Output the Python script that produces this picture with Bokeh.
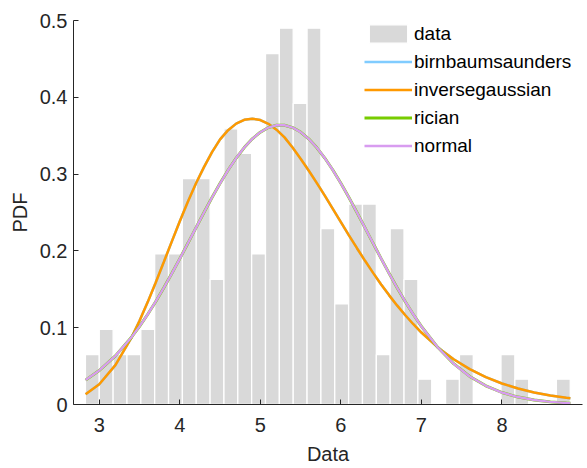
from bokeh.plotting import figure
from bokeh.models import Range1d, FixedTicker, Legend, LegendItem, ColumnDataSource
from bokeh.embed import file_html
from bokeh.resources import INLINE

# ---- data ----
bin_left0 = 2.828
bin_width = 0.172
bar_heights = [0.065, 0.098, 0.065, 0.065, 0.098, 0.196, 0.196, 0.294, 0.294, 0.163,
               0.359, 0.327, 0.196, 0.457, 0.490, 0.392, 0.490, 0.229, 0.131, 0.261,
               0.261, 0.065, 0.229, 0.163, 0.033, 0.0, 0.033, 0.065, 0.0, 0.0,
               0.065, 0.033, 0.0, 0.0, 0.033]

curve_x = [2.83, 3.0, 3.2, 3.4, 3.5, 3.6, 3.7, 3.8, 3.9, 4.0, 4.1, 4.2, 4.3, 4.4, 4.5,
           4.6, 4.7, 4.8, 4.9, 5.0, 5.1, 5.2, 5.3, 5.4, 5.5, 5.6, 5.7, 5.8, 5.9, 6.0,
           6.1, 6.2, 6.3, 6.4, 6.5, 6.6, 6.7, 6.8, 6.9, 7.0, 7.2, 7.4, 7.6, 7.8, 8.0,
           8.2, 8.4, 8.6, 8.8, 8.85]
invgauss_y = [0.0132, 0.0264, 0.0512, 0.0871, 0.1090, 0.1330, 0.1586, 0.1852, 0.2121,
              0.2387, 0.2641, 0.2878, 0.3091, 0.3287, 0.3452, 0.3572, 0.3657, 0.3707,
              0.3722, 0.3704, 0.3655, 0.3578, 0.3478, 0.3346, 0.3199, 0.3047, 0.2886,
              0.2719, 0.2547, 0.2375, 0.2203, 0.2035, 0.1871, 0.1714, 0.1563, 0.1421,
              0.1287, 0.1162, 0.1045, 0.0937, 0.0747, 0.0590, 0.0460, 0.0356, 0.0273,
              0.0208, 0.0157, 0.0118, 0.0088, 0.0082]
birnbaum_y = [0.0132, 0.0264, 0.0512, 0.0871, 0.1090, 0.1330, 0.1586, 0.1852, 0.2121,
              0.2387, 0.2641, 0.2878, 0.3091, 0.3287, 0.3452, 0.3572, 0.3657, 0.3707,
              0.3722, 0.3704, 0.3655, 0.3578, 0.3478, 0.3346, 0.3199, 0.3047, 0.2886,
              0.2719, 0.2547, 0.2375, 0.2203, 0.2035, 0.1871, 0.1714, 0.1563, 0.1421,
              0.1287, 0.1162, 0.1045, 0.0937, 0.0747, 0.0590, 0.0460, 0.0356, 0.0273,
              0.0208, 0.0157, 0.0118, 0.0088, 0.0082]
normal_y = [0.0318, 0.0443, 0.0633, 0.0876, 0.1017, 0.1172, 0.1339, 0.1517, 0.1705,
            0.1899, 0.2099, 0.2300, 0.2500, 0.2695, 0.2880, 0.3053, 0.3209, 0.3346,
            0.3459, 0.3546, 0.3606, 0.3636, 0.3636, 0.3606, 0.3547, 0.3459, 0.3346,
            0.3209, 0.3053, 0.2880, 0.2695, 0.2500, 0.2300, 0.2099, 0.1899, 0.1705,
            0.1517, 0.1339, 0.1172, 0.1017, 0.0748, 0.0531, 0.0365, 0.0243, 0.0156,
            0.0097, 0.0059, 0.0034, 0.0019, 0.0017]
rician_y = [0.0318, 0.0443, 0.0633, 0.0876, 0.1017, 0.1172, 0.1339, 0.1517, 0.1705,
            0.1899, 0.2099, 0.2300, 0.2500, 0.2695, 0.2880, 0.3053, 0.3209, 0.3346,
            0.3459, 0.3546, 0.3606, 0.3636, 0.3636, 0.3606, 0.3547, 0.3459, 0.3346,
            0.3209, 0.3053, 0.2880, 0.2695, 0.2500, 0.2300, 0.2099, 0.1899, 0.1705,
            0.1517, 0.1339, 0.1172, 0.1017, 0.0748, 0.0531, 0.0365, 0.0243, 0.0156,
            0.0097, 0.0059, 0.0034, 0.0019, 0.0017]

x_ticks = [3, 4, 5, 6, 7, 8]
y_ticks = [0, 0.1, 0.2, 0.3, 0.4, 0.5]
y_tick_labels = ["0", "0.1", "0.2", "0.3", "0.4", "0.5"]

# ---- figure ----
FONT = "Liberation Sans"
TXT = "#262626"

p = figure(width=587, height=468, output_backend="svg", toolbar_location=None,
           x_range=Range1d(2.68, 9.0), y_range=Range1d(0, 0.5))
p.min_border_left = 73
p.min_border_right = 5
p.min_border_top = 20
p.min_border_bottom = 64
p.outline_line_color = None
p.xgrid.visible = False
p.ygrid.visible = False
p.background_fill_color = "white"
p.border_fill_color = "white"

lefts = [bin_left0 + i * bin_width for i in range(len(bar_heights))]
rights = [l + bin_width for l in lefts]
src = ColumnDataSource(dict(left=lefts, right=rights, top=bar_heights,
                            bottom=[0] * len(bar_heights)))
bars = p.quad(left="left", right="right", top="top", bottom="bottom", source=src,
              fill_color="#d9d9d9", line_color="white", line_width=1.3)

r_bs = p.line(curve_x, birnbaum_y, line_color="#80ccff", line_width=2.5)
r_ig = p.line(curve_x, invgauss_y, line_color="#ff9900", line_width=2.5)
r_ri = p.line(curve_x, rician_y, line_color="#77cc00", line_width=2.9)
r_no = p.line(curve_x, normal_y, line_color="#d89cf0", line_width=2.4)

for ax in (p.xaxis[0], p.yaxis[0]):
    ax.axis_line_color = TXT
    ax.major_tick_line_color = TXT
    ax.major_tick_in = 5
    ax.major_tick_out = 0
    ax.minor_tick_line_color = None
    ax.major_label_text_font = FONT
    ax.major_label_text_font_size = "20px"
    ax.major_label_text_color = TXT
    ax.axis_label_text_font = FONT
    ax.axis_label_text_font_size = "20px"
    ax.axis_label_text_color = TXT
    ax.axis_label_text_font_style = "normal"

p.xaxis.ticker = FixedTicker(ticks=x_ticks)
p.yaxis.ticker = FixedTicker(ticks=y_ticks)
p.yaxis.major_label_overrides = {t: l for t, l in zip(y_ticks, y_tick_labels)}
p.xaxis.axis_label = "Data"
p.yaxis.axis_label = "PDF"
p.xaxis.major_label_standoff = 13
p.yaxis.major_label_standoff = 6
p.xaxis.axis_label_standoff = 8
p.yaxis.axis_label_standoff = 6

legend = Legend(items=[
    LegendItem(label="data", renderers=[bars]),
    LegendItem(label="birnbaumsaunders", renderers=[r_bs]),
    LegendItem(label="inversegaussian", renderers=[r_ig]),
    LegendItem(label="rician", renderers=[r_ri]),
    LegendItem(label="normal", renderers=[r_no]),
], location=(291, 247))
legend.border_line_color = None
legend.background_fill_alpha = 0
legend.padding = 0
legend.margin = 0
legend.spacing = 5
legend.glyph_width = 48
legend.glyph_height = 23
legend.label_height = 23
legend.label_standoff = 2
legend.label_text_font = FONT
legend.label_text_font_size = "19px"
legend.label_text_color = "black"
p.add_layout(legend, "center")

open("out.html", "w").write(file_html(p, INLINE))
